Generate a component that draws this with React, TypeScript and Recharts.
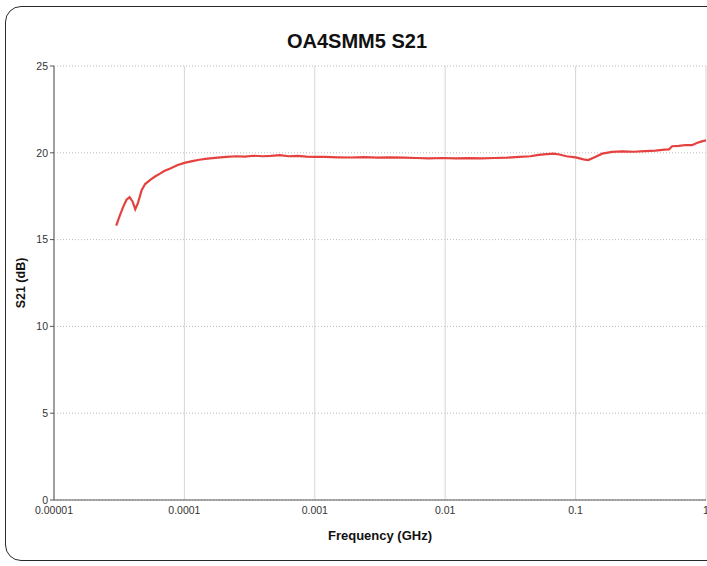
import React from 'react';
import { LineChart, Line, XAxis, YAxis, CartesianGrid, Label } from 'recharts';

const freqGHz = [
  3.0e-5, 3.2e-5, 3.4e-5, 3.6e-5, 3.8e-5, 4.0e-5, 4.2e-5, 4.4e-5, 4.7e-5, 5.0e-5,
  5.5e-5, 6.0e-5, 6.5e-5, 7.0e-5, 7.8e-5, 8.8e-5, 1.0e-4, 1.15e-4, 1.3e-4, 1.5e-4,
  1.8e-4, 2.1e-4, 2.5e-4, 2.9e-4, 3.4e-4, 4.0e-4, 4.6e-4, 5.4e-4, 6.3e-4, 7.4e-4,
  8.6e-4, 1.0e-3, 1.2e-3, 1.5e-3, 1.9e-3, 2.4e-3, 3.0e-3, 3.8e-3, 4.8e-3, 6.0e-3,
  7.5e-3, 9.5e-3, 0.012, 0.015, 0.019, 0.024, 0.03, 0.037, 0.045, 0.052,
  0.06, 0.068, 0.075, 0.085, 0.1, 0.115, 0.125, 0.14, 0.16, 0.19,
  0.23, 0.28, 0.34, 0.41, 0.48, 0.52, 0.55, 0.62, 0.7, 0.78,
  0.86, 0.93, 1.0,
];

const s21dB = [
  15.8, 16.4, 16.9, 17.3, 17.45, 17.2, 16.75, 17.1, 17.85, 18.2,
  18.45, 18.65, 18.8, 18.95, 19.1, 19.28, 19.42, 19.52, 19.6, 19.66,
  19.72, 19.76, 19.8, 19.78, 19.83, 19.8, 19.82, 19.86, 19.8, 19.82,
  19.78, 19.77, 19.76, 19.74, 19.73, 19.75, 19.72, 19.74, 19.72, 19.7,
  19.68, 19.7, 19.68, 19.69, 19.68, 19.7, 19.72, 19.76, 19.8, 19.88,
  19.92, 19.95, 19.9, 19.8, 19.74, 19.62, 19.58, 19.75, 19.95, 20.05,
  20.08, 20.06, 20.1, 20.12, 20.18, 20.2, 20.38, 20.4, 20.45, 20.44,
  20.58, 20.66, 20.72,
];

const xTicks = [0.00001, 0.0001, 0.001, 0.01, 0.1, 1];
const xTickLabels = ['0.00001', '0.0001', '0.001', '0.01', '0.1', '1'];
const yTicks = [0, 5, 10, 15, 20, 25];

const title = 'OA4SMM5 S21';
const xTitle = 'Frequency (GHz)';
const yTitle = 'S21 (dB)';

const data = freqGHz.map((f, i) => ({ f, v: s21dB[i] }));

const FONT = '"Liberation Sans", Arial, sans-serif';

export default function App() {
  return (
    <div style={{ position: 'absolute', left: 0, top: 0, width: 707, height: 566, overflow: 'hidden', background: '#fff' }}>
      <div
        style={{
          position: 'absolute',
          left: 5,
          top: 6,
          width: 740,
          height: 555,
          border: '1.5px solid #2a2a2a',
          borderRadius: 16,
          boxSizing: 'border-box',
        }}
      />
      <div
        style={{
          position: 'absolute',
          left: 357 - 150,
          width: 300,
          top: 30,
          textAlign: 'center',
          fontFamily: FONT,
          fontWeight: 'bold',
          fontSize: 20,
          color: '#111',
        }}
      >
        {title}
      </div>
      <div style={{ position: 'absolute', left: 0, top: 0 }}>
        <LineChart width={707} height={566} data={data} margin={{ top: 66, right: 1, bottom: 26, left: 0 }}>
          <CartesianGrid vertical={false} stroke="#bdbdbd" strokeDasharray="1 2" />
          <CartesianGrid horizontal={false} stroke="#d6d6d6" />
          <XAxis
            dataKey="f"
            type="number"
            scale="log"
            domain={[0.00001, 1]}
            allowDataOverflow
            ticks={xTicks}
            tickFormatter={(v: number) => xTickLabels[xTicks.findIndex((t) => Math.abs(Math.log10(t) - Math.log10(v)) < 1e-6)] ?? String(v)}
            tickLine={false}
            tickSize={5}
            tickMargin={2}
            height={40}
            stroke="#555"
            tick={{ fill: '#333', fontSize: 10.5, fontFamily: FONT }}
            interval={0}
          >
            <Label value={xTitle} position="insideBottom" offset={0} style={{ fill: '#111', fontSize: 13, fontWeight: 'bold', fontFamily: FONT }} />
          </XAxis>
          <YAxis
            type="number"
            domain={[0, 25]}
            ticks={yTicks}
            width={54}
            tickSize={4}
            tickMargin={2}
            stroke="#555"
            tick={{ fill: '#333', fontSize: 10.5, fontFamily: FONT }}
            interval={0}
          >
            <Label
              content={() => (
                <text
                  x={22}
                  y={283}
                  transform="rotate(-90 22 283)"
                  textAnchor="middle"
                  dominantBaseline="middle"
                  style={{ fill: '#111', fontSize: 12.5, fontWeight: 'bold', fontFamily: FONT }}
                >
                  {yTitle}
                </text>
              )}
            />
          </YAxis>
          <Line
            type="linear"
            dataKey="v"
            stroke="#e5413f"
            strokeWidth={2.2}
            dot={false}
            isAnimationActive={false}
          />
        </LineChart>
      </div>
    </div>
  );
}
